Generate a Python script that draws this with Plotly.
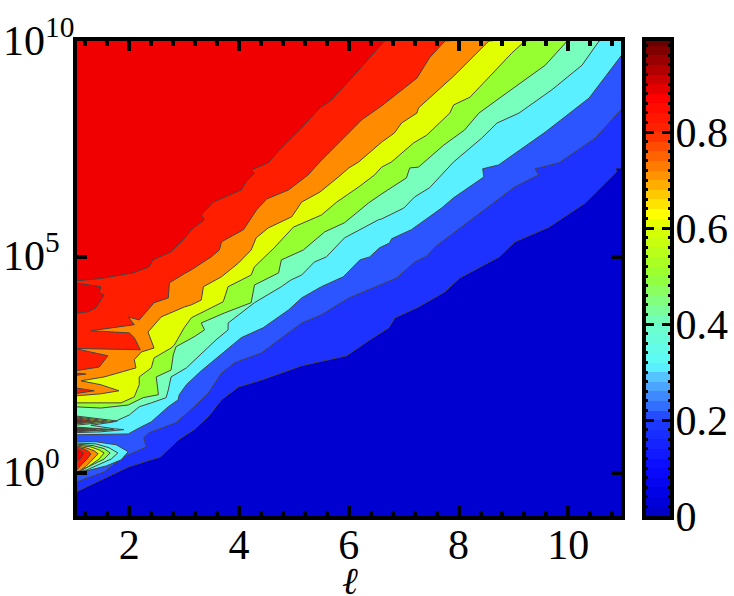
import plotly.graph_objects as go

# Contour levels and the fill used above each of them
levels = [0.1, 0.2, 0.3, 0.4, 0.5, 0.6, 0.7, 0.8, 0.9]
band_colors = ["#0000D0", "#1E32FF", "#2D55FF", "#5AF0FF", "#78FFBE",
               "#96FF32", "#E1FF00", "#FF8C00", "#FF1E00", "#F00000"]

# Level curves: ell and log10(y)
l01_x = [1,1.48,1.99,2.57,2.89,3.18,3.44,3.68,3.99,4.41,5.14,5.96,6.36,6.73,6.84,7.24,7.75,8.02,8.74,9.03,9.65,10.31,10.70,10.88,10.86,11]
l01_y = [-.46,-.16,.14,.37,.76,1.0,1.30,1.69,1.99,2.15,2.48,2.71,3.06,3.36,3.59,3.82,4.19,4.51,5.0,5.35,5.69,6.25,6.74,6.97,7.06,7.06]
l02_x = [1,1.54,1.90,2.31,2.26,2.36,2.85,3.18,3.44,3.68,3.92,4.17,4.41,5.14,5.50,6.0,6.87,7.20,7.42,7.57,7.93,8.42,9.02,9.46,9.39,9.83,10.49,11]
l02_y = [-.23,.02,.37,.60,.81,.93,1.16,1.53,1.85,2.31,2.55,2.66,2.78,3.47,3.66,4.05,4.51,4.88,5.02,5.23,5.58,6.04,6.62,6.90,7.04,7.18,7.75,8.47]
l03_x = [1,1.98,2.18,2.40,2.71,2.89,2.91,3.04,3.29,3.58,4.04,4.44,4.90,5.14,5.50,5.90,6.20,6.38,6.56,6.74,6.78,7.14,7.69,7.91,8.46,8.44,8.73,9.58,10.38,11]
l03_y = [.88,.90,1.04,1.18,1.53,1.69,1.81,2.04,2.34,2.64,3.13,3.36,3.77,4.05,4.31,4.54,4.93,5.0,5.21,5.32,5.42,5.63,6.13,6.37,6.85,7.04,7.13,7.89,8.68,9.72]
l04_x = [1,1.48,1.90,1.72,1.30,1.72,2.0,2.18,2.40,2.67,2.71,2.76,3.04,3.22,3.58,3.80,3.80,4.28,4.77,4.95,5.14,5.37,5.59,5.92,6.54,6.60,7.0,7.20,7.47,7.91,8.42,8.70,9.10,9.70,10.25,10.56]
l04_y = [.93,.95,1.0,1.02,1.10,1.18,1.34,1.53,1.62,1.74,1.92,2.22,2.43,2.64,3.08,3.31,3.47,3.94,4.31,4.47,4.58,4.88,5.0,5.44,5.86,5.88,6.13,6.39,6.60,7.20,7.75,8.10,8.33,8.87,9.44,10]
l05_x = [1,1.48,1.98,2.25,2.53,2.49,2.76,2.80,2.85,3.18,3.37,3.31,3.73,4.22,4.28,4.72,4.77,5.17,5.56,5.92,6.36,6.60,7.05,7.11,7.27,7.73,8.11,8.37,8.88,9.58,9.98]
l05_y = [1.53,1.50,1.57,1.74,1.81,2.22,2.38,2.73,2.92,3.15,3.31,3.47,3.70,3.94,4.35,4.63,4.93,5.16,5.58,5.79,6.25,6.46,6.83,7.06,7.08,7.59,7.94,8.33,8.80,9.44,10]
l06_x = [1,1.85,2.09,2.18,2.18,2.40,2.45,2.76,2.82,3.0,3.13,3.40,3.71,3.80,4.22,4.28,4.64,4.99,5.50,5.78,6.18,6.47,6.60,6.78,7.18,7.42,7.84,7.91,8.21,8.97,9.21]
l06_y = [1.62,1.62,1.76,2.04,2.22,2.43,2.66,2.89,2.96,3.36,3.59,3.77,3.96,4.31,4.58,4.77,5.21,5.69,5.97,6.27,6.62,6.90,7.08,7.20,7.64,7.82,8.33,8.52,8.70,9.72,10]
l07_x = [1,1.48,1.81,1.48,1.12,1.54,2.12,2.09,2.22,2.45,2.34,2.58,3.0,3.13,3.31,3.35,3.68,3.99,4.22,4.31,4.53,4.96,5.14,5.47,5.81,6.0,6.18,6.60,6.83,6.96,7.24,7.27,7.93,8.24,8.55]
l07_y = [1.78,1.83,1.90,2.04,2.13,2.22,2.43,2.62,2.80,2.89,3.26,3.61,3.84,3.89,4.0,4.31,4.54,4.86,5.16,5.44,5.67,5.93,6.27,6.50,6.85,7.06,7.20,7.66,7.87,8.10,8.33,8.45,9.21,9.61,10]
l08_x = [1,1.45,1.61,1,2.20,2.09,2.0,1.30,2.09,1.98,2.18,2.45,2.71,2.73,3.0,3.13,3.49,3.64,3.68,4.08,4.32,4.50,4.90,5.26,5.47,5.87,6.23,6.60,6.96,7.24,7.47,7.75]
l08_y = [2.36,2.45,2.71,2.88,2.85,3.13,3.24,3.29,3.43,3.61,3.54,3.94,4.05,4.40,4.61,4.70,5.0,5.16,5.35,5.63,6.09,6.34,6.55,6.90,7.20,7.71,8.17,8.50,8.87,9.14,9.61,10]
l09_x = [1,1.48,2.07,2.36,2.43,2.76,2.98,3.13,3.37,3.31,3.53,4.04,4.13,4.28,4.22,4.53,4.77,5.14,5.47,5.68,6.05,6.51,6.65]
l09_y = [4.44,4.50,4.63,4.77,4.93,5.12,5.39,5.63,5.86,5.97,6.27,6.55,6.74,6.94,7.01,7.18,7.52,7.99,8.45,8.63,9.14,9.79,10]

# Closed islands on the left edge: (level, ell, log10 y)
islands = [
    (0.3, [1,1.39,1.76,1.98,1.85,1.58,1.30,1], [.72,.72,.65,.49,.30,.16,.07,0]),
    (0.4, [1,1.39,1.63,1.79,1.67,1.39,1.23,1], [.69,.67,.58,.46,.32,.16,.07,0]),
    (0.5, [1,1.34,1.54,1.65,1.54,1.30,1.14,1], [.67,.63,.56,.46,.32,.16,.07,0]),
    (0.6, [1,1.30,1.45,1.54,1.45,1.26,1.12,1], [.65,.60,.53,.46,.32,.15,.06,0]),
    (0.7, [1,1.21,1.36,1.43,1.34,1.21,1.10,1], [.63,.58,.51,.44,.32,.15,.05,0]),
    (0.8, [1,1.16,1.26,1.30,1.23,1.12,1], [.60,.56,.49,.44,.32,.18,0]),
    (0.9, [1,1.08,1.16,1.16,1.10,1], [.58,.53,.46,.42,.32,.23]),
    (0.5, [1,1.78,1], [1.32,1.20,1.10]),
    (0.6, [1,1.60,1], [1.30,1.20,1.13]),
    (0.7, [1,1.45,1], [1.28,1.20,1.15]),
    (0.8, [1,1.30,1], [1.26,1.20,1.16]),
    (0.9, [1,1.15,1], [1.24,1.20,1.18]),
    (0.5, [1,1.72,1], [1.06,1.0,.95]),
    (0.6, [1,1.60,1], [1.05,1.0,.96]),
    (0.7, [1,1.40,1], [1.04,1.0,.97]),
    (0.8, [1,1.25,1], [1.03,1.0,.98]),
    (0.9, [1,1.12,1], [1.02,1.0,.99]),
    (0.8, [1,1.36,1], [1.97,1.90,1.83]),
    (0.8, [1,1.21,1], [2.31,2.29,2.25]),
    (0.9, [1,1.30,1.48,1.45,1.54,1.39,1.25,1], [4.40,4.35,4.31,4.17,4.12,3.82,3.73,3.69]),
]

# Colour bar: band values and the colour ramp
cbar_values = [.01,.03,.05,.07,.09,.11,.13,.15,.17,.19,.21,.23,.25,.27,.29,.31,.33,.35,.37,.39,
               .41,.43,.45,.47,.49,.51,.53,.55,.57,.59,.61,.63,.65,.67,.69,.71,.73,.75,.77,.79,
               .81,.83,.85,.87,.89,.91,.93,.95,.97,.99]
cbar_scale = [[0, "rgb(0,0,190)"], [.04, "rgb(0,0,225)"], [.1, "rgb(10,10,255)"], [.2, "rgb(30,60,255)"],
              [.23, "rgb(50,110,255)"], [.26, "rgb(70,150,255)"], [.29, "rgb(85,195,255)"],
              [.315, "rgb(90,250,255)"], [.4, "rgb(110,255,200)"],
              [.5, "rgb(150,255,50)"], [.6, "rgb(220,255,0)"], [.63, "rgb(255,255,0)"],
              [.7, "rgb(255,160,0)"], [.75, "rgb(255,100,0)"], [.8, "rgb(255,40,0)"],
              [.87, "rgb(255,0,0)"], [.92, "rgb(190,0,0)"], [1, "rgb(90,0,0)"]]

x_ticks = [2, 4, 6, 8, 10]
y_ticks = [0, 5, 10]
c_ticks = [0, 0.2, 0.4, 0.6, 0.8]
c_labels = ["0", "0.2", "0.4", "0.6", "0.8"]

curves = [(l01_x, l01_y), (l02_x, l02_y), (l03_x, l03_y), (l04_x, l04_y), (l05_x, l05_y),
          (l06_x, l06_y), (l07_x, l07_y), (l08_x, l08_y), (l09_x, l09_y)]

FONT = "Liberation Serif, Times New Roman, serif"
LINE = "#444444"
fig = go.Figure()


def poly(xs, ys, color):
    fig.add_trace(go.Scatter(x=xs, y=[10 ** v for v in ys], mode="lines", fill="toself",
                             fillcolor=color, line=dict(color=LINE, width=1),
                             hoverinfo="skip", showlegend=False))


for i, lev in enumerate(levels):
    color = band_colors[i + 1]
    xs, ys = curves[i]
    poly(xs + [11.3, 0.8, 0.8], ys + [10.3, 10.3, ys[0]], color)
    for lv, ix, iy in islands:
        if lv == lev:
            poly(ix, iy, color)

fig.add_trace(go.Heatmap(x=[0.5], y=cbar_values, z=[[v] for v in cbar_values], zmin=0, zmax=1,
                         colorscale=cbar_scale, showscale=False, xaxis="x2", yaxis="y2",
                         hoverinfo="skip"))

W, H = 734, 596
TOP, BOTTOM = 41, 516
axis_common = dict(showgrid=False, zeroline=False, showline=True, linecolor="black", linewidth=4,
                   mirror="ticks", ticks="inside", tickcolor="black", automargin=False,
                   tickfont=dict(family=FONT, size=42, color="black"))
annots = [dict(text="10<sup>%d</sup>" % v, xref="paper", yref="y", x=1 / W, y=v, xanchor="left",
               yanchor="middle", yshift=4, showarrow=False,
               font=dict(family=FONT, size=42, color="black")) for v in y_ticks]
annots.append(dict(text="<i>ℓ</i>", xref="paper", yref="paper", x=350 / W, y=1 - 595 / H,
                   xanchor="center", yanchor="bottom", yshift=-10, showarrow=False,
                   font=dict(family="DejaVu Serif", size=38, color="black")))
fig.update_layout(
    template="none",
    width=W, height=H, autosize=False,
    margin=dict(l=0, r=0, t=0, b=0),
    paper_bgcolor="white", plot_bgcolor=band_colors[0],
    xaxis=dict(domain=[77 / W, 621 / W], range=[1.046, 10.96], tickmode="array", tickvals=x_ticks,
               ticklen=10, tickwidth=4, ticklabelstandoff=-11,
               minor=dict(tickmode="array", tickvals=[1.2,1.6,2.4,2.8,3.2,3.6,4.4,4.8,5.2,5.6,6.4,6.8,7.2,7.6,8.4,8.8,9.2,9.6,10.4,10.8],
                          ticks="inside", ticklen=5, tickwidth=4, tickcolor="black", showgrid=False),
               anchor="y", **axis_common),
    yaxis=dict(domain=[1 - BOTTOM / H, 1 - TOP / H], type="log", range=[-1, 10], tickmode="array",
               tickvals=[10 ** v for v in y_ticks], showticklabels=False,
               ticklen=10, tickwidth=4, anchor="x", **axis_common),
    xaxis2=dict(domain=[646 / W, 670 / W], range=[0, 1], showticklabels=False, ticks="",
                showgrid=False, zeroline=False, showline=True, linecolor="black", linewidth=4,
                mirror=True, anchor="y2", automargin=False),
    yaxis2=dict(domain=[1 - BOTTOM / H, 1 - TOP / H], range=[0, 0.99], side="right", anchor="x2",
                tickmode="array", tickvals=c_ticks, ticktext=c_labels, ticklen=8, tickwidth=3,
                ticklabelstandoff=-7,
                minor=dict(dtick=0.02, tick0=0, ticks="inside", ticklen=2, tickwidth=3,
                           tickcolor="black", showgrid=False),
                **axis_common),
    annotations=annots,
)
fig.write_html("out.html", post_script="document.body.style.margin='0';",
               config={"displayModeBar": False})
